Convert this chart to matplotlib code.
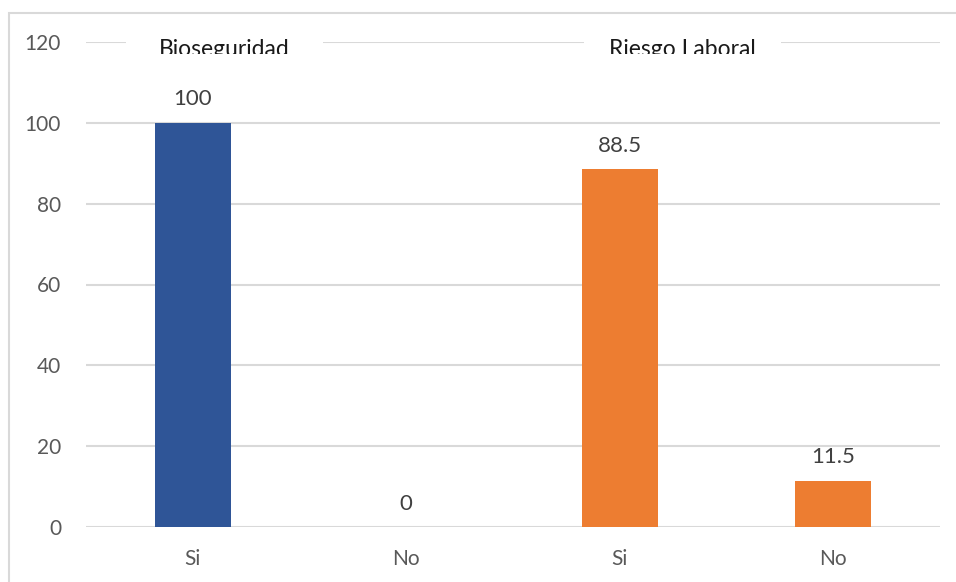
from matplotlib import pyplot as plt
from matplotlib.patches import Rectangle
from matplotlib.transforms import Bbox, TransformedBbox
import numpy as np

categories = ["Si", "No", "Si", "No"]
values = [100, 0, 88.5, 11.5]
groups = ["Bioseguridad", "Riesgo Laboral"]
group_of_bar = [0, 0, 1, 1]
group_colors = ["#2F5597", "#ED7D31"]
yticks = [0, 20, 40, 60, 80, 100, 120]

plt.rcParams['font.family'] = ['Lato', 'DejaVu Sans']

W, H = 956, 582
fig = plt.figure(figsize=(W / 100, H / 100), dpi=100)


def px(x, y):
    # pixel position (from top-left) to figure fraction
    return x / W, 1 - y / H


# light grey outer frame, open towards the right and bottom
fx, fy = px(9, 13)
fig.patches.append(Rectangle((fx, -0.2), 2, fy + 0.2, transform=fig.transFigure,
                             facecolor='none', edgecolor='#D9D9D9', lw=1.5))

left, top = px(86, 42)
right, bottom = px(940, 527)
ax = fig.add_axes([left, bottom, right - left, top - bottom])

x = np.arange(len(categories))
colors = [group_colors[g] for g in group_of_bar]
ax.bar(x, values, width=0.356, color=colors, zorder=3)

for xi, v in zip(x, values):
    ax.annotate('%g' % v, (xi, v), xytext=(0, 12.5), textcoords='offset points',
                ha='center', va='baseline', fontsize=16, color='#404040')

ax.set_xlim(-0.5, len(categories) - 0.5)
ax.set_ylim(0, 120)
ax.set_yticks(yticks)
ax.set_xticks(x)
ax.set_xticklabels(categories)
ax.tick_params(axis='both', length=0, labelsize=15, labelcolor='#595959')
ax.tick_params(axis='y', pad=18)
ax.tick_params(axis='x', pad=16)
ax.grid(axis='y', color='#D9D9D9', lw=1.5, zorder=0)
for s in ax.spines.values():
    s.set_visible(False)

# group titles sit in white boxes over the top gridline, cut off at the bottom
for name, (x0, x1) in zip(groups, [(126, 323), (584, 781)]):
    bx0, by1 = px(x0, 28)
    bx1, by0 = px(x1, 54)
    fig.patches.append(Rectangle((bx0, by0), bx1 - bx0, by1 - by0,
                                 transform=fig.transFigure, facecolor='white',
                                 edgecolor='none', zorder=5))
    cx, cy = px((x0 + x1) / 2, 56)
    t = fig.text(cx, cy, name, ha='center', va='baseline', fontsize=16.5,
                 color='#1A1A1A', zorder=6)
    t.set_clip_box(TransformedBbox(Bbox([[bx0, by0], [bx1, by1]]), fig.transFigure))
    t.set_clip_on(True)

fig.savefig('out.png', dpi=100)
